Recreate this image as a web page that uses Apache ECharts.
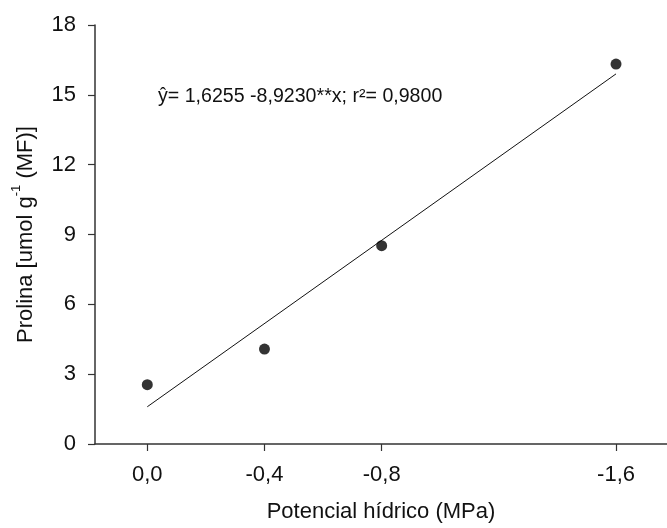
<!DOCTYPE html>
<html>
<head>
<meta charset="utf-8">
<script src="https://cdn.jsdelivr.net/npm/echarts@6/dist/echarts.min.js"></script>
<style>
html,body{margin:0;padding:0;background:#fff;}
#chart{width:667px;height:528px;}
</style>
</head>
<body>
<div id="chart"></div>
<script>
// Water potential (MPa) categories, as numeric positions
var potentials = [0, -0.4, -0.8, -1.6];
// Proline values
var prolina = [2.55, 4.08, 8.52, 16.32];
// Regression line endpoints
var fitX = [0, -1.6];
var fitY = [1.60, 15.90];
// Tick labels
var xTicks = [0, -0.4, -0.8, -1.6];
var yTicks = [0, 3, 6, 9, 12, 15, 18];
var equationText = 'ŷ= 1,6255 -8,9230**x; r²= 0,9800';

var font = 'Liberation Sans, Arial, sans-serif';
var chart = echarts.init(document.getElementById('chart'));

var pts = potentials.map(function (x, i) { return [x, prolina[i]]; });
var fit = fitX.map(function (x, i) { return [x, fitY[i]]; });

chart.setOption({
  animation: false,
  backgroundColor: '#fff',
  grid: { left: 95, right: 0, top: 25, bottom: 84 },
  xAxis: {
    type: 'value',
    inverse: true,
    min: -1.774,
    max: 0.1785,
    name: 'Potencial hídrico (MPa)',
    nameLocation: 'middle',
    nameGap: 57,
    nameTextStyle: { fontFamily: font, fontSize: 22, color: '#111' },
    axisLine: { show: true, onZero: false, lineStyle: { color: '#333', width: 1.5 } },
    axisTick: { show: true, length: 7, customValues: xTicks, lineStyle: { color: '#333', width: 1.2 } },
    axisLabel: {
      customValues: xTicks,
      margin: 20,
      fontFamily: font, fontSize: 22, color: '#111',
      formatter: function (v) { return (Math.abs(v) < 1e-9 ? 0 : v).toFixed(1).replace('.', ','); }
    },
    splitLine: { show: false }
  },
  yAxis: {
    type: 'value',
    min: 0, max: 18, interval: 3,
    name: '{m|Prolina [umol g}{s|-1}{m| (MF)]}',
    nameLocation: 'middle',
    nameGap: 58,
    nameRotate: 90,
    nameTextStyle: {
      fontFamily: font, fontSize: 22, color: '#111',
      rich: {
        m: { fontFamily: font, fontSize: 22, color: '#111', lineHeight: 27, verticalAlign: 'bottom' },
        s: { fontFamily: font, fontSize: 13, color: '#111', lineHeight: 13, verticalAlign: 'top' }
      }
    },
    axisLine: { show: true, onZero: false, lineStyle: { color: '#333', width: 1.5 } },
    axisTick: { show: true, length: 7, lineStyle: { color: '#333', width: 1.2 } },
    axisLabel: { margin: 19, fontFamily: font, fontSize: 22, color: '#111' },
    splitLine: { show: false }
  },
  graphic: [{
    type: 'text',
    left: 158,
    top: 87,
    style: { text: equationText, fontFamily: font, fontSize: 19.6, fill: '#111' }
  }],
  series: [
    {
      type: 'line',
      data: fit,
      symbol: 'none',
      lineStyle: { color: '#111', width: 1 },
      z: 2
    },
    {
      type: 'scatter',
      data: pts,
      symbol: 'circle',
      symbolSize: 11,
      itemStyle: { color: '#000' },
      z: 3
    }
  ]
});
</script>
</body>
</html>
